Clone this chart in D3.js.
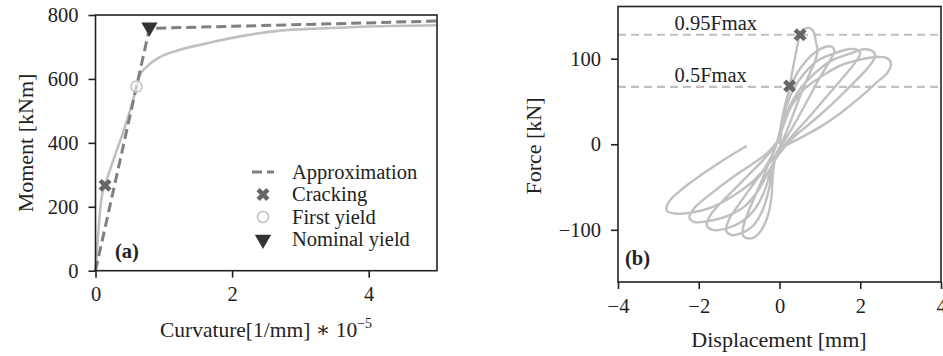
<!DOCTYPE html>
<html>
<head>
<meta charset="utf-8">
<script src="https://cdn.jsdelivr.net/npm/d3@7/dist/d3.min.js"></script>
<style>
    body { margin: 0; background: #fff; }
    svg { display: block; }
    text { font-family: "Liberation Serif", "DejaVu Serif", serif; fill: #222; }
</style>
</head>
<body>
<script>

// ---- panel (a): moment-curvature ----
const mcCurvature = [0, 0.04, 0.09, 0.14, 0.28, 0.43, 0.55, 0.6, 0.65, 0.75, 0.95, 1.19, 1.73, 2.22, 2.7, 3.29, 4.0, 5.0];
const mcMoment    = [0, 120, 230, 268, 357, 450, 534, 576, 612, 638, 669, 688, 716, 737, 751, 758, 764, 768];

const approxCurvature = [0, 0.79, 5.0];
const approxMoment    = [0, 758, 781];

const crackingPoint     = [0.14, 267];
const firstYieldPoint   = [0.6, 576];
const nominalYieldPoint = [0.79, 762];

const legendLabels = ["Approximation", "Cracking", "First yield", "Nominal yield"];
const aTicksX = [0, 2, 4];
const aTicksY = [0, 200, 400, 600, 800];

// ---- panel (b): force-displacement hysteresis ----
const hystDisp = [
    0, 0.04, 0.1, 0.17, 0.25, 0.33, 0.42, 0.51, 0.6, 0.7, 0.78, 0.86, 0.9, 0.94,
    0.88, 0.7, 0.5, 0.3, 0.15, 0.0,
    -0.12, -0.17, -0.2, -0.28, -0.42, -0.6, -0.78, -0.9,
    -0.9, -0.78, -0.6, -0.42, -0.25, -0.1,
    0.0, 0.1, 0.22, 0.4, 0.65, 0.9, 1.15, 1.3, 1.36,
    1.25, 1.0, 0.7, 0.4, 0.15, -0.05,
    -0.17, -0.25, -0.4, -0.65, -0.95, -1.2, -1.32,
    -1.25, -1.0, -0.7, -0.42, -0.2, -0.06,
    0.06, 0.16, 0.32, 0.6, 0.95, 1.35, 1.7, 1.9, 2.0,
    1.85, 1.5, 1.1, 0.7, 0.3, -0.02,
    -0.2, -0.35, -0.6, -0.95, -1.35, -1.65, -1.8,
    -1.7, -1.4, -1.0, -0.6, -0.28, -0.07,
    0.1, 0.25, 0.5, 0.85, 1.3, 1.75, 2.1, 2.3, 2.37,
    2.2, 1.8, 1.3, 0.8, 0.35, -0.02,
    -0.25, -0.5, -0.85, -1.3, -1.8, -2.1, -2.23,
    -2.1, -1.7, -1.2, -0.7, -0.3, -0.05,
    0.12, 0.3, 0.6, 1.0, 1.5, 2.0, 2.4, 2.65, 2.76,
    2.68, 2.4, 2.0, 1.5, 1.0, 0.5, 0.03,
    -0.3, -0.7, -1.2, -1.7, -2.2, -2.6, -2.8,
    -2.72, -2.4, -2.0, -1.5, -1.1, -0.81
];
const hystForce = [
    0, 12, 30, 48, 68, 88, 110, 128, 134, 136, 135, 130, 120, 110,
    97, 78, 55, 30, 12, -4,
    -20, -40, -62, -82, -98, -108, -110, -107,
    -97, -80, -60, -40, -20, -4,
    14, 38, 60, 80, 97, 108, 114, 114, 109,
    98, 78, 52, 26, 6, -8,
    -25, -50, -75, -95, -104, -106, -101,
    -88, -70, -50, -32, -14, 2,
    20, 42, 62, 82, 98, 106, 111, 111, 106,
    94, 74, 52, 30, 9, -10,
    -28, -52, -75, -91, -99, -100, -95,
    -82, -66, -47, -28, -12, 2,
    22, 44, 64, 82, 98, 106, 111, 109, 103,
    90, 70, 47, 26, 8, -12,
    -30, -52, -72, -84, -90, -91, -86,
    -74, -58, -40, -24, -10, 4,
    25, 45, 64, 78, 92, 99, 102, 101, 95,
    84, 72, 55, 36, 20, 7, -6,
    -25, -45, -62, -74, -80, -81, -77,
    -66, -52, -38, -22, -10, -2
];

const fmaxLevels = [128, 67];
const fmaxLabels = ["0.95Fmax", "0.5Fmax"];
const bMarkerDisp  = [0.51, 0.25];
const bMarkerForce = [128, 68];
const bTicksX = [-4, -2, 0, 2, 4];
const bTicksY = [-100, 0, 100];

// colours
const lightGrey = "#c0c0c0";
const midGrey = "#808080";
const darkGrey = "#666666";
const nearBlack = "#333333";

const fontSize = 20.5;

const svg = d3.select("body").append("svg")
    .attr("width", 943)
    .attr("height", 356);

// X-shaped filled marker (rotated cross)
const xMarker = d3.symbol().type(d3.symbolCross).size(105);
const triMarker = d3.symbol().type(d3.symbolTriangle).size(115);

function minus(v) {
    return String(v).replace("-", "\u2212");
}

// Draw frame, ticks and tick labels for one panel
function drawAxes(g, x, y, ticksX, ticksY) {
    const [x0, x1] = x.range();
    const [y0, y1] = y.range();

    g.append("g")
        .attr("transform", "translate(0," + y0 + ")")
        .call(d3.axisBottom(x).tickValues(ticksX).tickSize(7).tickPadding(9).tickFormat(minus))
        .call(a => a.select(".domain").remove());

    g.append("g")
        .attr("transform", "translate(" + x0 + ",0)")
        .call(d3.axisLeft(y).tickValues(ticksY).tickSize(7).tickPadding(10).tickFormat(minus))
        .call(a => a.select(".domain").remove());

    g.selectAll(".tick line").attr("stroke", "#222").attr("stroke-width", 1.6);
    g.selectAll(".tick text")
        .style("font-family", "'Liberation Serif', serif")
        .style("font-size", fontSize + "px")
        .attr("fill", "#222");

    g.append("rect")
        .attr("x", x0)
        .attr("y", y1)
        .attr("width", x1 - x0)
        .attr("height", y0 - y1)
        .attr("fill", "none")
        .attr("stroke", "#222")
        .attr("stroke-width", 1.6);
}

// ---------------- panel (a) ----------------
const gA = svg.append("g");

const xA = d3.scaleLinear().domain([0, 5]).range([95.5, 437]);
const yA = d3.scaleLinear().domain([0, 800]).range([270.7, 15]);

const lineA = d3.line()
    .x(d => xA(d[0]))
    .y(d => yA(d[1]))
    .curve(d3.curveMonotoneX);

gA.append("path")
    .datum(d3.zip(mcCurvature, mcMoment))
    .attr("d", lineA)
    .attr("fill", "none")
    .attr("stroke", lightGrey)
    .attr("stroke-width", 2.6);

gA.append("path")
    .datum(d3.zip(approxCurvature, approxMoment))
    .attr("d", d3.line().x(d => xA(d[0])).y(d => yA(d[1])))
    .attr("fill", "none")
    .attr("stroke", midGrey)
    .attr("stroke-width", 3)
    .attr("stroke-dasharray", "10,5");

gA.append("path")
    .attr("d", xMarker())
    .attr("transform", "translate(" + xA(crackingPoint[0]) + "," + yA(crackingPoint[1]) + ") rotate(45)")
    .attr("fill", darkGrey);

gA.append("circle")
    .attr("cx", xA(firstYieldPoint[0]))
    .attr("cy", yA(firstYieldPoint[1]))
    .attr("r", 5.5)
    .attr("fill", "#fff")
    .attr("fill-opacity", 0.6)
    .attr("stroke", lightGrey)
    .attr("stroke-width", 1.5);

gA.append("path")
    .attr("d", triMarker())
    .attr("transform", "translate(" + xA(nominalYieldPoint[0]) + "," + yA(nominalYieldPoint[1]) + ") rotate(180)")
    .attr("fill", nearBlack);

drawAxes(gA, xA, yA, aTicksX, aTicksY);

// legend
const legend = gA.append("g").attr("transform", "translate(252,172)");
legendLabels.forEach(function(label, i) {
    const row = legend.append("g").attr("transform", "translate(0," + (i * 22.5) + ")");
    if (i === 0) {
        row.append("line")
            .attr("x1", 0).attr("x2", 22)
            .attr("stroke", midGrey)
            .attr("stroke-width", 3)
            .attr("stroke-dasharray", "10,5");
    } else if (i === 1) {
        row.append("path").attr("d", xMarker())
            .attr("transform", "translate(11,0) rotate(45)")
            .attr("fill", darkGrey);
    } else if (i === 2) {
        row.append("circle").attr("cx", 11).attr("r", 5.5)
            .attr("fill", "#fff").attr("stroke", lightGrey).attr("stroke-width", 1.5);
    } else {
        row.append("path").attr("d", triMarker())
            .attr("transform", "translate(11,0) rotate(180)")
            .attr("fill", nearBlack);
    }
    row.append("text")
        .attr("x", 40)
        .attr("dy", "0.33em")
        .style("font-size", fontSize + "px")
        .text(label);
});

gA.append("text")
    .attr("x", 115)
    .attr("y", 258)
    .style("font-size", fontSize + "px")
    .style("font-weight", "bold")
    .text("(a)");

gA.append("text")
    .attr("transform", "translate(33,143) rotate(-90)")
    .attr("text-anchor", "middle")
    .style("font-size", (fontSize + 1.5) + "px")
    .text("Moment [kNm]");

const xLabelA = gA.append("text")
    .attr("x", 266)
    .attr("y", 337)
    .attr("text-anchor", "middle")
    .style("font-size", (fontSize + 1) + "px");
xLabelA.append("tspan").text("Curvature[1/mm] \u2217 10");
xLabelA.append("tspan")
    .attr("dy", -9)
    .style("font-size", "14px")
    .text("\u22125");

// ---------------- panel (b) ----------------
const gB = svg.append("g");

const xB = d3.scaleLinear().domain([-4, 4]).range([618, 941]);
const yB = d3.scaleLinear().domain([-161, 161]).range([282, 6.5]);

fmaxLevels.forEach(function(level, i) {
    gB.append("line")
        .attr("x1", xB(-4)).attr("x2", xB(4))
        .attr("y1", yB(level)).attr("y2", yB(level))
        .attr("stroke", lightGrey)
        .attr("stroke-width", 2.2)
        .attr("stroke-dasharray", "8,5");
    gB.append("text")
        .attr("x", xB(-2.6))
        .attr("y", yB(level) - 5)
        .style("font-size", fontSize + "px")
        .text(fmaxLabels[i]);
});

gB.append("path")
    .datum(d3.zip(hystDisp, hystForce))
    .attr("d", d3.line()
        .x(d => xB(d[0]))
        .y(d => yB(d[1]))
        .curve(d3.curveCatmullRom.alpha(0.5)))
    .attr("fill", "none")
    .attr("stroke", lightGrey)
    .attr("stroke-width", 2.4)
    .attr("stroke-linejoin", "round");

bMarkerDisp.forEach(function(d, i) {
    gB.append("path")
        .attr("d", xMarker())
        .attr("transform", "translate(" + xB(d) + "," + yB(bMarkerForce[i]) + ") rotate(45)")
        .attr("fill", darkGrey);
});

drawAxes(gB, xB, yB, bTicksX, bTicksY);

gB.append("text")
    .attr("x", 625)
    .attr("y", 265)
    .style("font-size", fontSize + "px")
    .style("font-weight", "bold")
    .text("(b)");

gB.append("text")
    .attr("transform", "translate(541,146) rotate(-90)")
    .attr("text-anchor", "middle")
    .style("font-size", (fontSize + 1.5) + "px")
    .text("Force [kN]");

gB.append("text")
    .attr("x", 779)
    .attr("y", 347)
    .attr("text-anchor", "middle")
    .style("font-size", (fontSize + 1.5) + "px")
    .text("Displacement [mm]");

</script>
</body>
</html>
